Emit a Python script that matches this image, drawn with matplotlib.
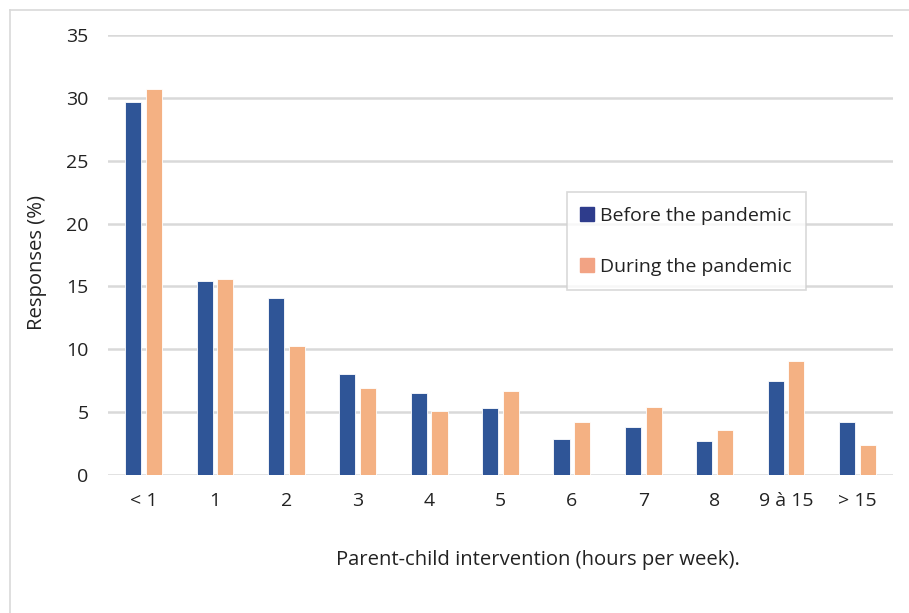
import matplotlib
matplotlib.use("Agg")
import matplotlib.pyplot as plt
import numpy as np
from matplotlib.lines import Line2D

categories = ["< 1", "1", "2", "3", "4", "5", "6", "7", "8", "9 à 15", "> 15"]
before = [29.7, 15.4, 14.1, 8.0, 6.5, 5.3, 2.9, 3.8, 2.7, 7.5, 4.2]
during = [30.7, 15.6, 10.3, 6.9, 5.1, 6.7, 4.2, 5.4, 3.6, 9.1, 2.4]
series_names = ["Before the pandemic", "During the pandemic"]
yticks = [0, 5, 10, 15, 20, 25, 30, 35]

plt.rcParams['font.family'] = ['Open Sans', 'DejaVu Sans']

W, H = 909, 613
fig = plt.figure(figsize=(W / 100, H / 100), dpi=100)
ax = fig.add_axes([108 / W, 1 - 475 / H, (893 - 108) / W, (475 - 35) / H])

x = np.arange(len(categories))
bw = 0.225
off = 0.145
c_blue = "#2F5597"
c_orange = "#F4B183"
ax.bar(x - off, before, bw, color=c_blue, edgecolor="white", linewidth=0.6, label=series_names[0], zorder=3)
ax.bar(x + off, during, bw, color=c_orange, edgecolor="white", linewidth=0.6, label=series_names[1], zorder=3)

ax.set_xlim(-0.5, len(categories) - 0.5)
ax.set_ylim(0, 35)
ax.set_yticks(yticks)
ax.set_yticklabels([str(v) for v in yticks], fontsize=14, color="#222222")
ax.set_xticks(x)
ax.set_xticklabels(categories, fontsize=14, color="#222222")
ax.tick_params(axis="both", length=0)
ax.tick_params(axis="y", pad=14)
ax.tick_params(axis="x", pad=12)
ax.grid(axis="y", color="#d9d9d9", linewidth=1.8, zorder=0)
for s in ax.spines.values():
    s.set_visible(False)

fig.text(538 / W, 1 - 560 / H, "Parent-child intervention (hours per week).",
         ha="center", va="center", fontsize=14.6, color="#222222")
fig.text(37 / W, 1 - 262 / H, "Responses (%)", rotation=90,
         ha="center", va="center", fontsize=14.6, color="#222222")

handles = [Line2D([0], [0], marker="s", linestyle="none", markersize=9.5,
                  markerfacecolor=c, markeredgecolor=c) for c in ["#2E3C8C", "#F2A384"]]
leg = fig.legend(handles, series_names, loc="upper left",
                 bbox_to_anchor=(567 / W, 1 - 192 / H), fontsize=14,
                 frameon=True, fancybox=False, labelspacing=1.7,
                 handletextpad=0.35, handlelength=0.6, borderpad=0.75,
                 borderaxespad=0)
leg.get_frame().set_edgecolor("#d0d0d0")
leg.get_frame().set_linewidth(1.2)
for t in leg.get_texts():
    t.set_color("#222222")

# outer frame (left and top edges visible)
fig.add_artist(Line2D([9.5 / W, 9.5 / W], [0, 1 - 10 / H], transform=fig.transFigure,
                      color="#d9d9d9", linewidth=1.2))
fig.add_artist(Line2D([9.5 / W, 1], [1 - 10 / H, 1 - 10 / H], transform=fig.transFigure,
                      color="#d9d9d9", linewidth=1.2))

fig.savefig("out.png", dpi=100, facecolor="white")
